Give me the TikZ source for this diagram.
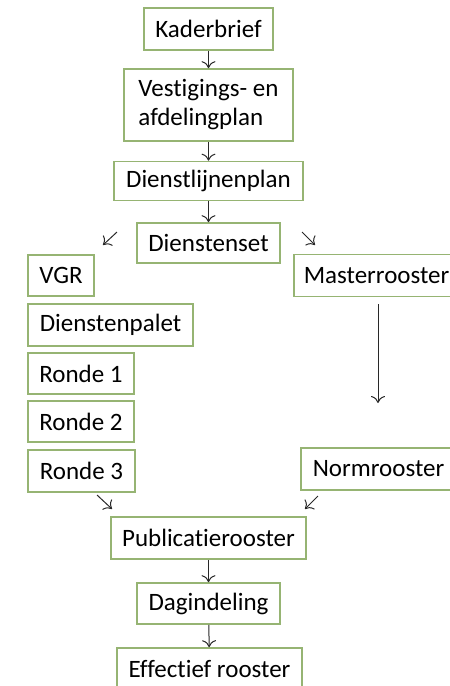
\documentclass[tikz,border=0pt]{standalone}
\usepackage{fontspec}
\setmainfont{Carlito}[Ligatures=NoCommon]
\usetikzlibrary{arrows.meta}
\definecolor[named]{Olive}{RGB}{150,180,115}
\definecolor[named]{Arrowgray}{RGB}{40,40,40}
\tikzset{stap/.style ={
        draw=Olive,
        fill=white,
        line width=1.6pt,
        inner sep=0pt,
        text=black,
        font=\fontsize{25}{29}\selectfont,
    },
    afgesneden/.style ={
        stap,
        anchor=west,
        inner xsep=10pt,
        minimum height=42pt,
    },
    pijl/.style ={
        draw=Arrowgray,
        line width=1pt,
        -{To[length=7pt,width=14pt]},
    }}

\begin{document}
\begin{tikzpicture}[x=1pt,y=-1pt]
	\useasboundingbox (0,0) rectangle (450,686);
	\clip (0,0) rectangle (450,686);
	% middenkolom
	\node[stap,minimum width=129pt,minimum height=42pt] (kader) at (208.5,29) {Kaderbrief};
	\node[stap,minimum width=169pt,minimum height=72pt,align=left] (vest) at (208.5,105) {Vestigings- en\\afdelingplan};
	\node[stap,minimum width=189pt,minimum height=39pt] (dlp) at (208.5,181) {Dienstlijnenplan};
	\node[stap,minimum width=143pt,minimum height=40pt] (dset) at (208.5,243) {Dienstenset};
	% linkerkolom
	\node[stap,minimum width=66pt,minimum height=41pt] (vgr) at (61,275.5) {VGR};
	\node[stap,minimum width=165pt,minimum height=42pt] (palet) at (110.5,325) {Dienstenpalet};
	\node[stap,minimum width=106pt,minimum height=41pt] (ronde1) at (81,373.5) {Ronde 1};
	\node[stap,minimum width=106pt,minimum height=41pt] (ronde2) at (81,421.5) {Ronde 2};
	\node[stap,minimum width=107pt,minimum height=42pt] (ronde3) at (81.5,471) {Ronde 3};
	% rechterkolom
	\node[afgesneden] (master) at (293,275.5) {Masterrooster};
	\node[afgesneden,inner xsep=12pt] (norm) at (300,469) {Normrooster};
	% onderkant
	\node[stap,minimum width=195pt,minimum height=42pt] (publ) at (208.5,538) {Publicatierooster};
	\node[stap,minimum width=143pt,minimum height=41pt] (dag) at (208.5,603.5) {Dagindeling};
	\node[stap,minimum width=185pt,minimum height=42pt] (eff) at (209.5,669) {Effectief rooster};

	\coordinate (linksboven) at (117,232);
	\coordinate (vgrpijl) at (103,245);
	\coordinate (rechtsboven) at (302,232);
	\coordinate (masterpijl) at (315,245);
	\coordinate (ronde3pijl) at (97,495);
	\coordinate (linksonder) at (112,509);
	\coordinate (normpijl) at (318,496);
	\coordinate (rechtsonder) at (305,509);
	\coordinate (masterstart) at (378,304);
	\coordinate (masterend) at (378,403);

	\draw[pijl] (kader) -- (vest);
	\draw[pijl] (vest) -- (dlp);
	\draw[pijl] (dlp) -- (dset);
	\draw[pijl] (publ) -- (dag);
	\draw[pijl] (dag) -- (eff);
	\draw[pijl] (linksboven) -- (vgrpijl);
	\draw[pijl] (rechtsboven) -- (masterpijl);
	\draw[pijl] (ronde3pijl) -- (linksonder);
	\draw[pijl] (normpijl) -- (rechtsonder);
	\draw[pijl] (masterstart) -- (masterend);
\end{tikzpicture}
\end{document}
